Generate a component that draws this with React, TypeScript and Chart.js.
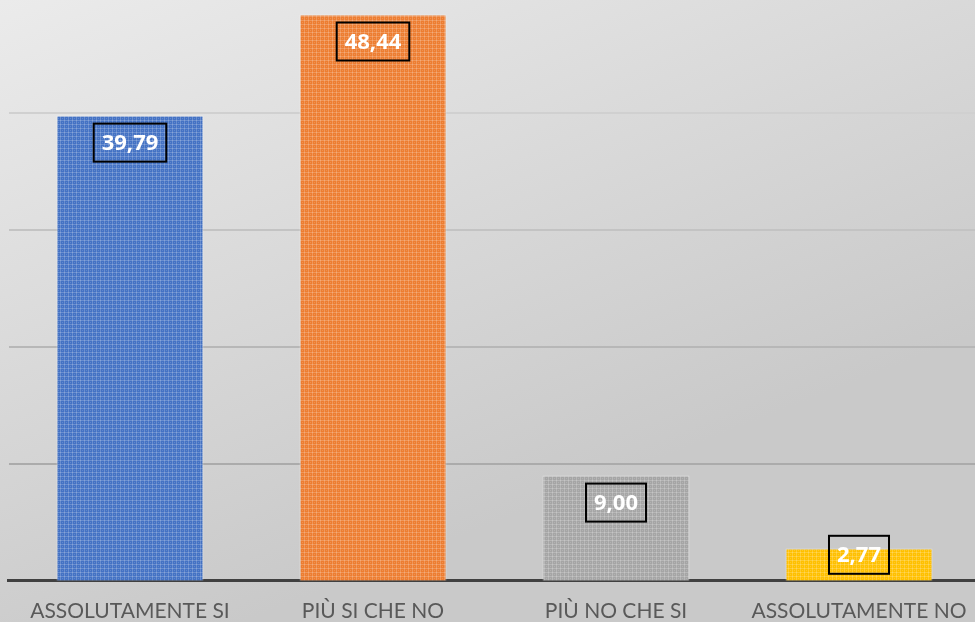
import React, { useEffect, useRef } from "react";
import { Chart, registerables } from "chart.js";

Chart.register(...registerables);

const categories = ["ASSOLUTAMENTE SI", "PIÙ SI CHE NO", "PIÙ NO CHE SI", "ASSOLUTAMENTE NO"];
const values = [39.79, 48.44, 9.0, 2.77];
const valueLabels = ["39,79", "48,44", "9,00", "2,77"];
const barColors = ["#4472C4", "#ED7D31", "#A5A5A5", "#FFC000"];
const gridTicks = [10, 20, 30, 40];
const gridColors = ["#ababab", "#b7b7b7", "#c3c3c3", "#d0d0d0"];

function makePattern(color: string): CanvasPattern | string {
  const c = document.createElement("canvas");
  c.width = 4;
  c.height = 4;
  const g = c.getContext("2d");
  if (!g) return color;
  g.fillStyle = color;
  g.fillRect(0, 0, 4, 4);
  g.fillStyle = "rgba(255,255,255,0.2)";
  g.fillRect(0, 0, 4, 1);
  g.fillRect(0, 0, 1, 4);
  g.fillStyle = "rgba(255,255,255,0.15)";
  g.fillRect(2, 2, 1, 1);
  const p = g.createPattern(c, "repeat");
  return p || color;
}

const labelBoxPlugin = {
  id: "labelBoxes",
  afterDatasetsDraw(chart: any) {
    const ctx = chart.ctx;
    const meta = chart.getDatasetMeta(0);
    ctx.save();
    ctx.font = "bold 22px 'Open Sans'";
    ctx.textAlign = "center";
    ctx.textBaseline = "middle";
    meta.data.forEach((bar: any, i: number) => {
      const text = valueLabels[i];
      const tw = ctx.measureText(text).width;
      const w = tw + 16;
      const h = 38;
      const base = bar.base;
      let top = bar.y + 8;
      if (top + h > base - 7) top = base - 7 - h;
      const left = bar.x - w / 2;
      ctx.fillStyle = "#ffffff";
      ctx.fillText(text, bar.x, top + h / 2 + 1);
      ctx.strokeStyle = "#000000";
      ctx.lineWidth = 2;
      ctx.strokeRect(left, top, w, h);
    });
    ctx.restore();
  },
};

const bgPlugin = {
  id: "bg",
  beforeDraw(chart: any) {
    const ctx = chart.ctx;
    const width = 975;
    const height = 622;
    ctx.save();
    const g = ctx.createLinearGradient(0, 0, width * 0.25, height);
    g.addColorStop(0, "#ebebeb");
    g.addColorStop(1, "#c9c9c9");
    ctx.fillStyle = g;
    ctx.fillRect(0, 0, chart.width, chart.height);
    ctx.restore();
  },
};

export default function App() {
  const ref = useRef<HTMLCanvasElement | null>(null);
  useEffect(() => {
    if (!ref.current) return;
    const chart = new Chart(ref.current, {
      type: "bar",
      data: {
        labels: categories,
        datasets: [
          {
            data: values,
            backgroundColor: barColors.map(makePattern) as any,
            borderColor: "rgba(255,255,255,0.45)",
            borderWidth: 1,
            barPercentage: 0.605,
            categoryPercentage: 1,
          },
        ],
      },
      options: {
        animation: false,
        responsive: false,
        maintainAspectRatio: false,
        layout: { padding: { left: 8.5, right: 9.5, top: 0, bottom: 0 } },
        plugins: { legend: { display: false }, tooltip: { enabled: false } },
        scales: {
          x: {
            grid: { display: false, drawTicks: false },
            border: { display: true, color: "#404040", width: 3 },
            ticks: {
              color: "#595959",
              font: { family: "Lato", size: 21 },
              padding: 18,
              maxRotation: 0,
              autoSkip: false,
            },
          },
          y: {
            display: true,
            min: 0,
            max: 49.68,
            afterBuildTicks: (axis: any) => {
              axis.ticks = gridTicks.map((v) => ({ value: v }));
            },
            ticks: { display: false },
            border: { display: false },
            grid: {
              drawTicks: false,
              lineWidth: 2,
              color: (c: any) => {
                const idx = gridTicks.indexOf(c.tick ? c.tick.value : -1);
                return idx >= 0 ? gridColors[idx] : "rgba(0,0,0,0)";
              },
            },
          },
        },
      },
      plugins: [bgPlugin, labelBoxPlugin],
    });
    return () => chart.destroy();
  }, []);
  return (
    <div style={{ position: "fixed", left: 0, top: 0, width: 975, height: 622, overflow: "hidden" }}>
      <canvas ref={ref} width={990} height={642} style={{ display: "block", width: 990, height: 642 }} />
    </div>
  );
}
